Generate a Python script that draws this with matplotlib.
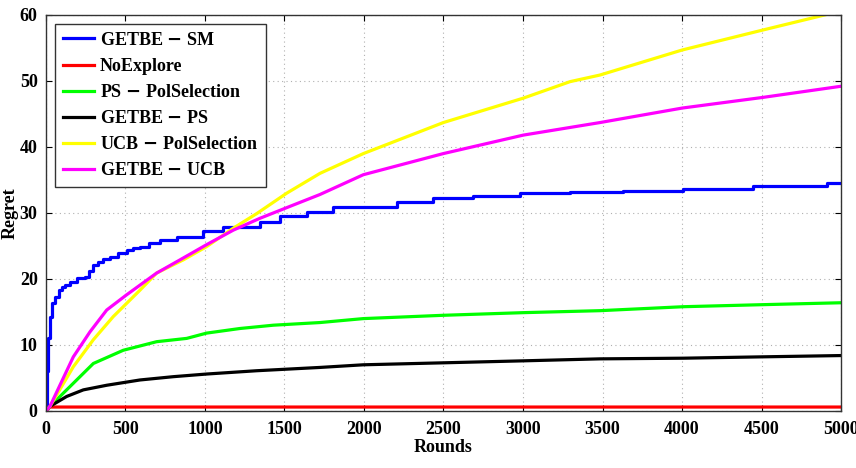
import numpy as np
import matplotlib.pyplot as plt

# ----- Daten ----- #
labels = ['GETBE $-$ SM', 'NoExplore', 'PS $-$ PolSelection', 'GETBE $-$ PS',
          'UCB $-$ PolSelection', 'GETBE $-$ UCB']
colors = ['#0000ff', '#ff0000', '#00ff00', '#000000', '#ffff00', '#ff00ff']

# GETBE - SM ist treppenförmig: x = Sprungstelle, y = neues Niveau
sm_x = [0, 8, 15, 25, 40, 57, 80, 100, 120, 150, 193, 245, 270, 298, 330, 360, 402, 450,
        507, 550, 591, 650, 717, 822, 989, 1115, 1346, 1472, 1640, 1807, 2205, 2436, 2687,
        2981, 3296, 3631, 4008, 4448, 4910, 5000]
sm_y = [0, 6.0, 11.0, 14.3, 16.3, 17.3, 18.3, 18.8, 19.1, 19.6, 20.1, 20.3, 21.2, 22.1,
        22.6, 23.0, 23.4, 23.9, 24.4, 24.7, 24.9, 25.4, 25.9, 26.4, 27.3, 27.9, 28.7, 29.5,
        30.1, 30.9, 31.7, 32.3, 32.6, 33.1, 33.2, 33.4, 33.7, 34.1, 34.6, 34.6]

noexp_x = [0, 25, 5000]
noexp_y = [0, 0.6, 0.6]

ps_x = [0, 25, 172, 298, 486, 696, 885, 1010, 1220, 1430, 1723, 1996, 2499, 3002, 3484,
        4008, 4491, 5000]
ps_y = [0, 0.7, 4.2, 7.2, 9.2, 10.5, 11.0, 11.8, 12.5, 13.0, 13.4, 14.0, 14.5, 14.9, 15.2,
        15.8, 16.1, 16.4]

getps_x = [0, 25, 130, 235, 382, 591, 801, 1010, 1325, 1723, 1996, 2499, 3002, 3484,
           4008, 4491, 5000]
getps_y = [0, 0.7, 2.2, 3.2, 3.9, 4.7, 5.2, 5.6, 6.1, 6.6, 7.0, 7.3, 7.6, 7.9, 8.0, 8.2, 8.4]

ucbpol_x = [0, 25, 172, 298, 423, 591, 696, 864, 1010, 1178, 1325, 1514, 1723, 1996, 2499,
            3002, 3296, 3484, 4002, 4505, 4931, 5000]
ucbpol_y = [0, 0.7, 6.7, 10.8, 14.3, 18.3, 20.9, 22.9, 24.9, 27.7, 29.9, 33.0, 36.0, 39.0,
            43.7, 47.4, 49.9, 50.9, 54.7, 57.7, 60.2, 60.6]

getucb_x = [0, 25, 172, 277, 382, 507, 696, 843, 1010, 1178, 1346, 1555, 1723, 1996, 2499,
            3002, 3484, 4002, 4505, 5000]
getucb_y = [0, 0.7, 8.2, 12.0, 15.3, 17.6, 20.9, 22.9, 25.2, 27.4, 29.2, 31.2, 32.8, 35.8,
            39.0, 41.8, 43.7, 45.9, 47.5, 49.2]

series_x = [sm_x, noexp_x, ps_x, getps_x, ucbpol_x, getucb_x]
series_y = [sm_y, noexp_y, ps_y, getps_y, ucbpol_y, getucb_y]

# ----- Plot ----- #
plt.rcParams['font.family'] = ['Liberation Serif', 'DejaVu Serif']
plt.rcParams['font.weight'] = 'bold'
plt.rcParams['mathtext.default'] = 'bf'

fig = plt.figure(figsize=(8.56, 4.68), dpi=100)
ax = fig.add_axes([0.0537, 0.1218, 0.9288, 0.8462])

for i in range(len(labels)):
    ds = 'steps-post' if i == 0 else 'default'
    ax.plot(series_x[i], series_y[i], color=colors[i], linewidth=2.3, label=labels[i],
            drawstyle=ds)

ax.set_xlim(0, 5000)
ax.set_ylim(0, 60)
ax.set_xticks(np.arange(0, 5001, 500))
ax.set_yticks(np.arange(0, 61, 10))
ax.grid(True, linestyle=(0, (1, 3)), color='#b0b0b0', linewidth=0.8)
ax.tick_params(direction='in', top=True, right=True, labelsize=13, length=4, pad=6)
ax.tick_params(axis='x', pad=7)
for lab in ax.get_xticklabels() + ax.get_yticklabels():
    lab.set_fontweight('bold')
for sp in ax.spines.values():
    sp.set_color('#333333')
    sp.set_linewidth(1.0)

ax.set_xlabel('Rounds', fontsize=13, fontweight='bold', labelpad=1)
ax.set_ylabel('Regret', fontsize=13, fontweight='bold', labelpad=1)

leg = ax.legend(loc='upper left', bbox_to_anchor=(0.011, 0.978),
                prop={'weight': 'bold', 'size': 13}, fancybox=False, framealpha=1,
                edgecolor='#333333', handlelength=1.75, handletextpad=0.3,
                labelspacing=0.5, borderpad=0.45, borderaxespad=0)
leg.get_frame().set_linewidth(1.0)

fig.savefig('out.png', dpi=100)
